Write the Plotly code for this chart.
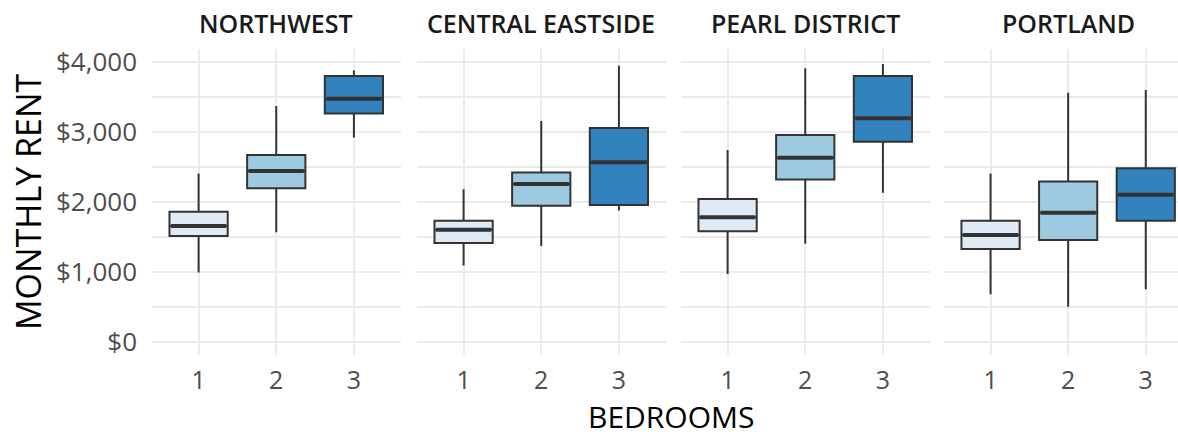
import plotly.graph_objects as go

regions = ["NORTHWEST", "CENTRAL EASTSIDE", "PEARL DISTRICT", "PORTLAND"]
bedrooms = [1, 2, 3]
fill_colors = ["#deebf7", "#9ecae1", "#3182bd"]

# per region: values for 1, 2, 3 bedrooms
lower_whisker = [[990, 1565, 2920], [1090, 1370, 1875], [970, 1400, 2130], [680, 500, 750]]
q1_vals = [[1510, 2195, 3265], [1410, 1945, 1955], [1580, 2320, 2860], [1325, 1455, 1730]]
median_vals = [[1655, 2440, 3475], [1600, 2255, 2565], [1780, 2630, 3195], [1525, 1845, 2100]]
q3_vals = [[1860, 2670, 3800], [1730, 2420, 3055], [2040, 2955, 3800], [1730, 2290, 2480]]
upper_whisker = [[2405, 3370, 3880], [2180, 3155, 3945], [2740, 3910, 3970], [2405, 3560, 3600]]

y_ticks = [0, 1000, 2000, 3000, 4000]
y_tick_labels = [f"${v:,}" for v in y_ticks]

BOX_W = 0.75
FONT = "Open Sans"
W, H = 1178, 437
L, R, T, B = 152, 0, 49, 82
plot_w = W - L - R
px = lambda p: (p - L) / plot_w
domains = [[px(152), px(400.5)], [px(417), px(665.5)], [px(681), px(929.5)], [px(944), 1.0]]
x_ranges = [[0.4, 3.6], [0.4, 3.6], [0.4, 3.6], [0.4, 0.4 + (1178 - 944) / 77.6]]

fig = go.Figure()

for r, reg in enumerate(regions):
    xa = "x" if r == 0 else f"x{r+1}"
    ya = "y" if r == 0 else f"y{r+1}"
    for b, bd in enumerate(bedrooms):
        fig.add_trace(go.Box(
            x=[bd], q1=[q1_vals[r][b]], median=[median_vals[r][b]], q3=[q3_vals[r][b]],
            lowerfence=[lower_whisker[r][b]], upperfence=[upper_whisker[r][b]],
            width=BOX_W, whiskerwidth=0, fillcolor=fill_colors[b],
            line=dict(color="#333333", width=2), boxpoints=False,
            xaxis=xa, yaxis=ya, showlegend=False, hoverinfo="skip",
        ))
        fig.add_trace(go.Scatter(
            x=[bd - BOX_W / 2 + 0.02, bd + BOX_W / 2 - 0.02],
            y=[median_vals[r][b], median_vals[r][b]],
            mode="lines", line=dict(color="#333333", width=4),
            xaxis=xa, yaxis=ya, showlegend=False, hoverinfo="skip",
        ))

grid = "#ebebeb"
layout = dict(
    width=W, height=H, margin=dict(l=L, r=R, t=T, b=B),
    paper_bgcolor="white", plot_bgcolor="white",
    font=dict(family=FONT, color="#4d4d4d"),
    boxmode="overlay",
    annotations=[],
)
for r in range(4):
    k = "" if r == 0 else str(r + 1)
    layout[f"xaxis{k}"] = dict(
        domain=domains[r], range=x_ranges[r], tickvals=bedrooms,
        ticktext=[str(v) for v in bedrooms],
        showgrid=True, gridcolor=grid, gridwidth=1.8, zeroline=False,
        showline=False, ticks="", tickfont=dict(size=25, color="#4d4d4d"),
        ticklabelstandoff=8, anchor="y" if r == 0 else f"y{r+1}", fixedrange=True,
    )
    layout[f"yaxis{k}"] = dict(
        range=[-190, 4186], tickvals=y_ticks, ticktext=y_tick_labels,
        showgrid=True, gridcolor=grid, gridwidth=1.8, zeroline=False,
        showline=False, ticks="", showticklabels=(r == 0),
        tickfont=dict(size=26, color="#4d4d4d"), ticklabelstandoff=14,
        minor=dict(dtick=500, tick0=0, showgrid=True, gridcolor=grid, gridwidth=1.5),
        anchor="x" if r == 0 else f"x{r+1}", fixedrange=True,
    )
    if r > 0:
        layout[f"yaxis{k}"]["matches"] = "y"
    layout["annotations"].append(dict(
        text=regions[r], xref="paper", yref="paper",
        x=(domains[r][0] + (domains[r][0] + 248.5 / plot_w)) / 2, y=(H - B - 23) / (H - T - B),
        xanchor="center", yanchor="middle", showarrow=False,
        font=dict(family=FONT, size=25, color="#1a1a1a", weight=600),
    ))

layout["annotations"].append(dict(
    text="BEDROOMS", xref="paper", yref="paper",
    x=px(671), y=(H - B - 437) / (H - T - B), xanchor="center", yanchor="bottom",
    borderpad=0, borderwidth=0, showarrow=False,
    font=dict(family=FONT, size=30, color="#000000"),
))
layout["annotations"].append(dict(
    text="MONTHLY RENT", xref="paper", yref="paper",
    x=px(28), y=(H - B - 202) / (H - T - B), xanchor="center", yanchor="middle",
    textangle=-90, showarrow=False, font=dict(family=FONT, size=34, color="#000000"),
))

fig.update_layout(**layout)
fig.write_html("out.html", config={"displayModeBar": False},
               post_script="document.body.style.margin='0';")
